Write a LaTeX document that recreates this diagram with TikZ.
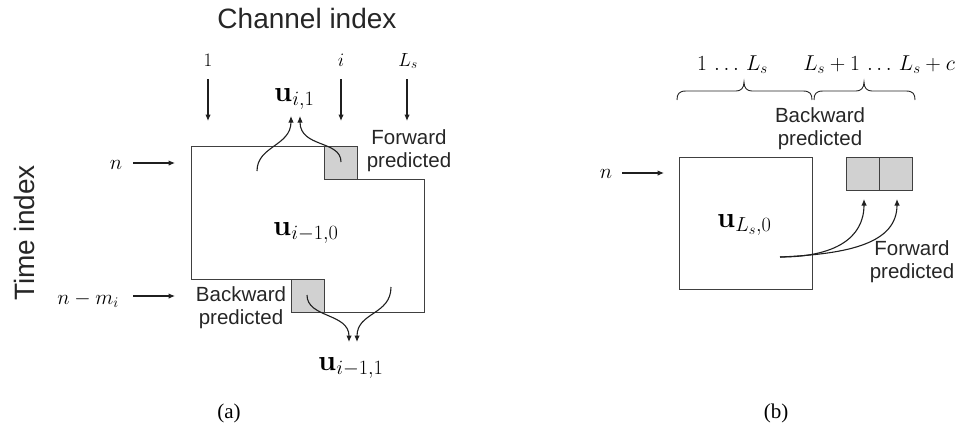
\documentclass[tikz,border=0pt]{standalone}
\usepackage{fix-cm}
\usepackage[no-math]{fontspec}
\newfontfamily\labelfont{Liberation Sans}
\newfontfamily\capfont{Liberation Serif}
\usetikzlibrary{arrows.meta}

\tikzset{
  outline/.style={draw=black!75, line width=1pt},
  predbox/.style={draw=black!75, fill=black!18, line width=1pt, minimum size=33pt, inner sep=0pt},
  arr/.style={-{Latex[length=6.5pt,width=5.5pt]}, line width=1.1pt, draw=black!88},
  sans/.style={font=\labelfont\fontsize{20.5}{23}\selectfont, align=center, inner sep=0pt, text=black!85},
  bigsans/.style={font=\labelfont\fontsize{28}{32}\selectfont, inner sep=0pt, text=black!85},
  idx/.style={font=\fontsize{19}{22}\selectfont, inner sep=0pt},
  idxb/.style={font=\fontsize{21.5}{24}\selectfont, inner sep=0pt},
  nlab/.style={font=\fontsize{21}{24}\selectfont, inner sep=0pt},
  vec/.style={font=\fontsize{29}{32}\selectfont, inner sep=0pt},
  sublabel/.style={font=\capfont\fontsize{21}{24}\selectfont, inner sep=0pt},
  bracepath/.style={draw=black!85, line width=0.9pt}
}

\begin{document}
\begin{tikzpicture}[x=1pt, y=-1pt]
\useasboundingbox (0,0) rectangle (958,432);

% ---------- axis titles ----------
\node[bigsans, anchor=base] (chan) at (307,28) {Channel index};
\node[bigsans, rotate=90, anchor=base] (time) at (34,233) {Time index};

% ---------- (a): channel indices ----------
\node[idx, anchor=base] (ch1) at (208,66) {$1$};
\node[idx, anchor=base] (chi) at (341,66) {$i$};
\node[idx, anchor=base] (chL) at (408,66) {$L_s$};
\coordinate (ch1s) at (208,79);  \coordinate (ch1e) at (208,121);
\coordinate (chis) at (341,79);  \coordinate (chie) at (341,121);
\coordinate (chLs) at (407,79);  \coordinate (chLe) at (407,121);
\draw[arr] (ch1s) -- (ch1e);
\draw[arr] (chis) -- (chie);
\draw[arr] (chLs) -- (chLe);

% ---------- (a): time indices ----------
\node[nlab, anchor=base] (tn) at (116,169) {$n$};
\node[nlab, anchor=base] (tnm) at (88,304) {$n-m_i$};
\coordinate (tns) at (133,163); \coordinate (tne) at (175,163);
\coordinate (tms) at (133,296); \coordinate (tme) at (175,296);
\draw[arr] (tns) -- (tne);
\draw[arr] (tms) -- (tme);

% ---------- (a): data block ----------
\draw[outline] (191,146) -- (357,146) -- (357,179) -- (424,179) -- (424,312)
  -- (291,312) -- (291,279) -- (191,279) -- cycle;
\node[predbox] (fpA) at (340.5,162.5) {};
\node[predbox] (bpA) at (307.5,295.5) {};

\node[vec, anchor=base west] (u0a) at (273,235) {$\mathbf{u}_{i-1,0}$};
\node[vec, anchor=base west] (u1a) at (274,101) {$\mathbf{u}_{i,1}$};
\node[vec, anchor=base west] (u11a) at (318,370) {$\mathbf{u}_{i-1,1}$};

\node[sans] (fwdA) at (409,151) {Forward\\predicted};
\node[sans] (bwdA) at (241,308) {Backward\\predicted};

% prediction arrows of (a)
\coordinate (pa1) at (257,171);
\coordinate (pa2) at (341,162);
\coordinate (ta1) at (291,116);
\coordinate (ta2) at (300,116);
\draw[arr] (pa1) .. controls (257,146) and (291,146) .. (ta1);
\draw[arr] (pa2) .. controls (341,140) and (300,148) .. (ta2);

\coordinate (pb1) at (307,295);
\coordinate (pb2) at (391,287);
\coordinate (tb1) at (349,342);
\coordinate (tb2) at (357,342);
\draw[arr] (pb1) .. controls (307,318) and (349,313) .. (tb1);
\draw[arr] (pb2) .. controls (391,315) and (357,312) .. (tb2);

\node[sublabel] (capa) at (229,413) {(a)};

% ---------- (b) ----------
\node[idxb, anchor=base west] (rng1) at (697,70) {$1\,\ldots\,L_s$};
\node[idxb, anchor=base east] (rng2) at (955,70) {$L_s+1\,\ldots\,L_s+c$};

% braces over the column ranges
\draw[bracepath] (677,100) .. controls (677,94) and (679,91) .. (686,91)
  -- (736,91) .. controls (741,91) and (744,88) .. (744,82)
  .. controls (744,88) and (747,91) .. (752,91)
  -- (803,91) .. controls (810,91) and (812,94) .. (812,100);
\draw[bracepath] (814,100) .. controls (814,94) and (816,91) .. (823,91)
  -- (856,91) .. controls (861,91) and (864,88) .. (864,82)
  .. controls (864,88) and (867,91) .. (872,91)
  -- (906,91) .. controls (913,91) and (915,94) .. (915,100);

\node[sans] (bwdB) at (820,128.5) {Backward\\predicted};

\draw[outline] (679,157) rectangle (812,289);
\node[predbox] (g1) at (862.5,173.5) {};
\node[predbox] (g2) at (895.5,173.5) {};

\node[vec, anchor=base west] (uL) at (717,227) {$\mathbf{u}_{L_s,0}$};

\node[nlab, anchor=base] (nb) at (606,178) {$n$};
\coordinate (nbs) at (622,173); \coordinate (nbe) at (664,173);
\draw[arr] (nbs) -- (nbe);

\coordinate (pc) at (780,257);
\coordinate (tc1) at (864,199);
\coordinate (tc2) at (897,199);
\draw[arr] (pc) .. controls (835,257) and (864,238) .. (tc1);
\draw[arr] (pc) .. controls (850,254) and (897,243) .. (tc2);

\node[sans] (fwdB) at (912,261.5) {Forward\\predicted};

\node[sublabel] (capb) at (776,413) {(b)};
\end{tikzpicture}
\end{document}
